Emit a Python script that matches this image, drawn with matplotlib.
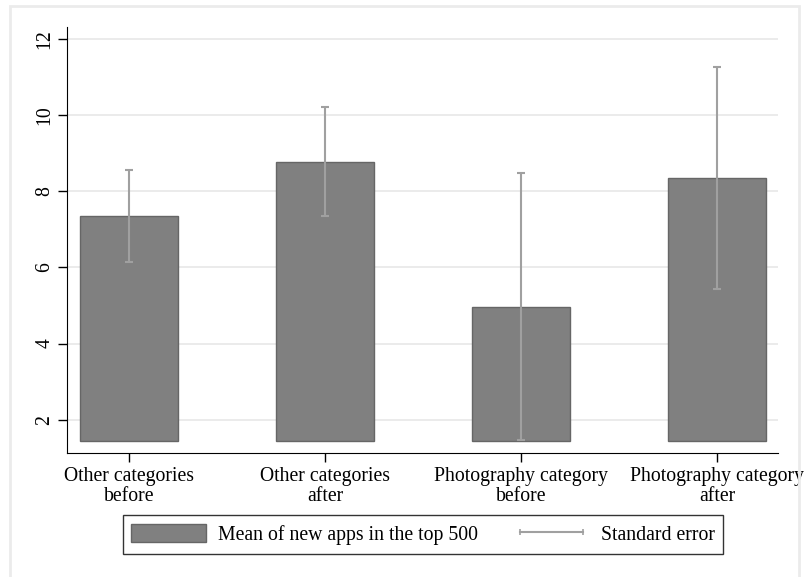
import matplotlib
matplotlib.use("Agg")
import matplotlib.pyplot as plt
from matplotlib.patches import Patch, Rectangle
from matplotlib.lines import Line2D

# datos
categorias = ["Other categories\nbefore", "Other categories\nafter",
              "Photography category\nbefore", "Photography category\nafter"]
medias = [7.35, 8.77, 4.97, 8.35]
errores = [1.20, 1.43, 3.51, 2.92]
base = 1.45
yticks = [2, 4, 6, 8, 10, 12]

plt.rcParams['font.family'] = ['Liberation Serif', 'DejaVu Serif']
plt.rcParams['font.size'] = 14.2

fig = plt.figure(figsize=(8.05, 5.77), dpi=100)
ax = fig.add_axes([67 / 805, 1 - 453 / 577, (778 - 67) / 805, (453 - 27) / 577])

# borde claro del area del grafico (sin linea inferior)
fig.patches.append(Rectangle((9.5 / 805, -0.05), 789 / 805, 1.05 - 6 / 577,
                             transform=fig.transFigure, fill=False,
                             edgecolor='#ebebeb', linewidth=2))

x = range(len(categorias))
alturas = [m - base for m in medias]
ax.bar(x, alturas, bottom=base, width=0.5, color='#808080',
       edgecolor='#666666', linewidth=1, zorder=2)
ax.errorbar(x, medias, yerr=errores, fmt='none', ecolor='#a0a0a0',
            elinewidth=1.5, capsize=3, capthick=1.5, zorder=3)

ax.set_xlim(-0.316, 3.311)
ax.set_ylim(1.126, 12.31)
ax.set_yticks(yticks)
ax.set_yticklabels([str(t) for t in yticks], rotation=90, va='center')
ax.set_xticks(list(x))
ax.set_xticklabels(categorias, linespacing=1.05)
ax.yaxis.grid(True, color='#e8e8e8', linewidth=1.2, zorder=0)
ax.set_axisbelow(True)
ax.spines['top'].set_visible(False)
ax.spines['right'].set_visible(False)
ax.tick_params(length=6.2, width=1)
ax.tick_params(axis='x', pad=4)
ax.tick_params(axis='y', pad=3)

# leyenda
h1 = Patch(facecolor='#808080', edgecolor='#666666')
h2 = Line2D([], [], color='#a0a0a0', linewidth=1.5, marker='|',
            markersize=5, markeredgewidth=1.2)
leg = fig.legend([h1, h2], ["Mean of new apps in the top 500", "Standard error"],
                 loc='upper center', bbox_to_anchor=(423 / 805, 1 - 515 / 577),
                 ncol=2, numpoints=2, frameon=True, fancybox=False,
                 handlelength=3.8, handleheight=1.07, handletextpad=0.6,
                 columnspacing=1.8, borderpad=0.45, borderaxespad=0)
leg.get_frame().set_edgecolor('black')
leg.get_frame().set_linewidth(1)

fig.savefig("out.png", dpi=100)
